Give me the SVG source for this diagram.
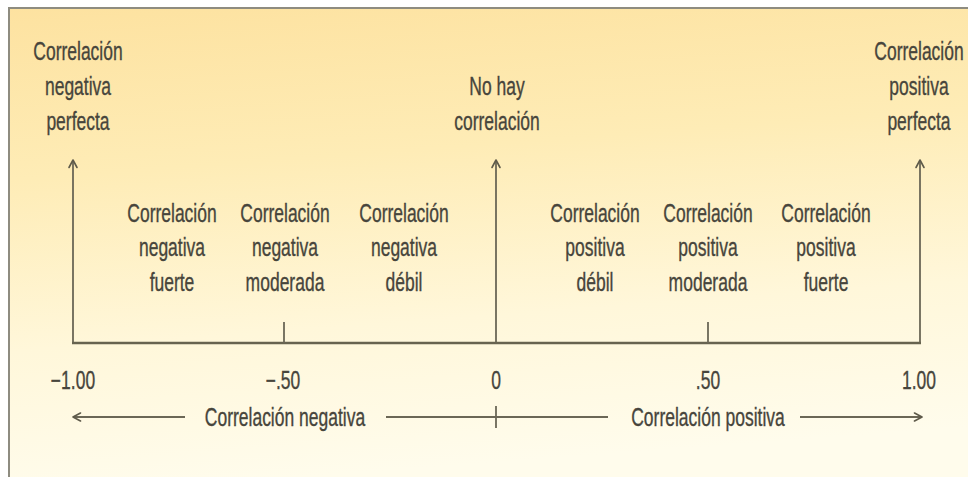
<svg xmlns="http://www.w3.org/2000/svg" width="968" height="477" viewBox="0 0 968 477">
  <defs>
    <linearGradient id="bg" x1="0" y1="0" x2="0.15" y2="1">
      <stop offset="0" stop-color="#fde2a0"/>
      <stop offset="0.35" stop-color="#feecb6"/>
      <stop offset="0.7" stop-color="#fff7da"/>
      <stop offset="1" stop-color="#fffcec"/>
    </linearGradient>
    <marker id="arr" viewBox="0 0 10 10" refX="9" refY="5" markerWidth="10" markerHeight="10" markerUnits="userSpaceOnUse" orient="auto-start-reverse">
      <path d="M1.5,1 L9,5 L1.5,9" fill="none" stroke="#5e5a4a" stroke-width="1.6" stroke-linecap="round" stroke-linejoin="round"/>
    </marker>
    <style>
      text { font-family: "Liberation Sans", Arial, sans-serif; font-size: 25px; fill: #47453c; stroke: #47453c; stroke-width: 0.35; text-anchor: middle; transform-box: fill-box; transform-origin: center; transform: scaleX(0.7); }
      .ln { stroke: #6b6756; stroke-width: 1.8; fill: none; }
      .ax { stroke: #67634f; stroke-width: 2.4; fill: none; }
    </style>
  </defs>

  <rect x="0" y="0" width="968" height="477" fill="#ffffff"/>
  <rect x="9" y="8" width="970" height="480" fill="url(#bg)" stroke="#8e8c80" stroke-width="2"/>

  <g id="connectors">
    <line class="ln" x1="73" y1="343" x2="73" y2="160" marker-end="url(#arr)"/>
    <line class="ln" x1="496" y1="343" x2="496" y2="160" marker-end="url(#arr)"/>
    <line class="ln" x1="920" y1="343" x2="920" y2="160" marker-end="url(#arr)"/>
    <line class="ax" x1="72" y1="343" x2="921" y2="343"/>
    <line class="ln" x1="284" y1="322" x2="284" y2="343"/>
    <line class="ln" x1="708" y1="322" x2="708" y2="343"/>
    <line class="ln" x1="185" y1="417" x2="73" y2="417" marker-end="url(#arr)"/>
    <line class="ln" x1="386" y1="417" x2="608" y2="417"/>
    <line class="ln" x1="496" y1="406" x2="496" y2="428"/>
    <line class="ln" x1="800" y1="417" x2="922" y2="417" marker-end="url(#arr)"/>
  </g>

  <g id="neg-perfecta">
    <text x="78" y="60">Correlación</text>
    <text x="78" y="95">negativa</text>
    <text x="78" y="130">perfecta</text>
  </g>
  <g id="no-hay">
    <text x="497" y="95">No hay</text>
    <text x="497" y="130">correlación</text>
  </g>
  <g id="pos-perfecta">
    <text x="919" y="60">Correlación</text>
    <text x="919" y="95">positiva</text>
    <text x="919" y="130">perfecta</text>
  </g>

  <g id="neg-fuerte">
    <text x="172" y="222">Correlación</text>
    <text x="172" y="256">negativa</text>
    <text x="172" y="291">fuerte</text>
  </g>
  <g id="neg-moderada">
    <text x="285" y="222">Correlación</text>
    <text x="285" y="256">negativa</text>
    <text x="285" y="291">moderada</text>
  </g>
  <g id="neg-debil">
    <text x="404" y="222">Correlación</text>
    <text x="404" y="256">negativa</text>
    <text x="404" y="291">débil</text>
  </g>
  <g id="pos-debil">
    <text x="595" y="222">Correlación</text>
    <text x="595" y="256">positiva</text>
    <text x="595" y="291">débil</text>
  </g>
  <g id="pos-moderada">
    <text x="708" y="222">Correlación</text>
    <text x="708" y="256">positiva</text>
    <text x="708" y="291">moderada</text>
  </g>
  <g id="pos-fuerte">
    <text x="826" y="222">Correlación</text>
    <text x="826" y="256">positiva</text>
    <text x="826" y="291">fuerte</text>
  </g>

  <g id="scale-labels">
    <text x="73" y="389">−1.00</text>
    <text x="283" y="389">−.50</text>
    <text x="496" y="389">0</text>
    <text x="708" y="389">.50</text>
    <text x="919" y="389">1.00</text>
  </g>

  <g id="correlacion-negativa">
    <text x="285" y="426">Correlación negativa</text>
  </g>
  <g id="correlacion-positiva">
    <text x="708" y="426">Correlación positiva</text>
  </g>
</svg>
